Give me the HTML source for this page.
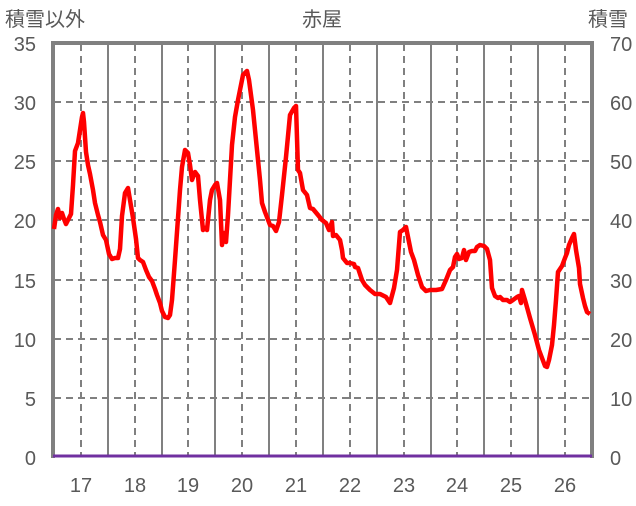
<!DOCTYPE html><html><head><style>body{margin:0;background:#fff}</style></head><body>
<svg width="636" height="501" xmlns="http://www.w3.org/2000/svg" font-family="Liberation Sans, Noto Sans CJK JP, sans-serif" fill="#595959">
<rect width="636" height="501" fill="#fff"/>
<g stroke="#808080" stroke-width="2" stroke-dasharray="7,5">
<line x1="54" x2="592" y1="398" y2="398"/><line x1="54" x2="592" y1="339" y2="339"/><line x1="54" x2="592" y1="280" y2="280"/><line x1="54" x2="592" y1="220" y2="220"/><line x1="54" x2="592" y1="161" y2="161"/><line x1="54" x2="592" y1="102" y2="102"/>
<line x1="81" x2="81" y1="44" y2="457"/><line x1="135" x2="135" y1="44" y2="457"/><line x1="188" x2="188" y1="44" y2="457"/><line x1="242" x2="242" y1="44" y2="457"/><line x1="296" x2="296" y1="44" y2="457"/><line x1="350" x2="350" y1="44" y2="457"/><line x1="404" x2="404" y1="44" y2="457"/><line x1="457" x2="457" y1="44" y2="457"/><line x1="511" x2="511" y1="44" y2="457"/><line x1="565" x2="565" y1="44" y2="457"/>
</g>
<g stroke="#808080" stroke-width="2">
<line x1="108" x2="108" y1="44" y2="457"/><line x1="162" x2="162" y1="44" y2="457"/><line x1="215" x2="215" y1="44" y2="457"/><line x1="269" x2="269" y1="44" y2="457"/><line x1="323" x2="323" y1="44" y2="457"/><line x1="377" x2="377" y1="44" y2="457"/><line x1="431" x2="431" y1="44" y2="457"/><line x1="484" x2="484" y1="44" y2="457"/><line x1="538" x2="538" y1="44" y2="457"/>
</g>
<path d="M53,458V43H592V458" fill="none" stroke="#808080" stroke-width="4"/>
<line x1="53" x2="592" y1="456" y2="456" stroke="#7030a0" stroke-width="3"/>
<polyline fill="none" stroke="#ff0000" stroke-width="4.5" stroke-linejoin="round" points="54,229 56,215 58,209 60,218 62,213 64,219 66,224 69,218 71,214 73,185 75,151 78,143 80,130 82,117 83,113 84,122 86,152 88,165 90,174 93,190 95,203 98,215 100,222 103,235 106,240 109,254 112,259 115,258 118,258 120,249 122,216 125,193 128,188 130,200 133,218 136,239 138,258 140,260 143,262 146,270 149,277 152,281 155,289 157,295 160,303 162,311 165,317 168,318 170,315 172,300 175,260 178,218 180,190 182,167 185,150 188,153 190,165 192,180 195,172 198,176 200,200 203,230 205,228 207,230 210,200 212,190 215,185 217,183 220,200 222,245 224,233 226,242 228,215 230,180 232,145 235,117 238,100 243,75 247,71 249,80 253,110 257,150 260,180 262,203 265,212 270,225 273,226 276,231 279,222 282,195 286,157 290,115 294,108 296,106 298,170 300,173 303,190 307,195 310,208 313,209 318,215 322,220 326,223 329,230 332,222 333,236 336,235 340,240 342,250 343,258 347,263 350,263 354,264 355,267 358,268 362,280 365,285 370,290 375,294 380,294 386,297 390,303 394,288 397,270 400,232 403,230 406,227 408,237 411,252 414,260 418,275 422,287 426,291 430,290 436,290 442,289 446,280 450,270 453,267 455,257 457,254 459,259 462,258 464,250 466,260 469,252 472,251 475,251 477,247 480,245 484,246 487,249 490,260 492,288 495,296 498,298 500,297 503,300 507,300 510,302 513,300 517,297 519,296 521,303 522,290 525,300 530,318 535,335 539,350 542,358 545,366 547,367 549,360 552,345 554,325 556,300 558,272 560,269 562,266 565,258 567,253 569,245 572,238 574,234 576,250 579,268 580,284 583,298 585,306 587,312 590,314"/>
<g font-size="20">
<text x="5" y="26">積雪以外</text>
<text x="322" y="26" text-anchor="middle">赤屋</text>
<text x="588" y="26">積雪</text>
<g text-anchor="end"><text x="36" y="51">35</text><text x="36" y="110">30</text><text x="36" y="169">25</text><text x="36" y="228">20</text><text x="36" y="288">15</text><text x="36" y="347">10</text><text x="36" y="406">5</text><text x="36" y="465">0</text></g>
<g><text x="610" y="51">70</text><text x="610" y="110">60</text><text x="610" y="169">50</text><text x="610" y="228">40</text><text x="610" y="288">30</text><text x="610" y="347">20</text><text x="610" y="406">10</text><text x="610" y="465">0</text></g>
<g text-anchor="middle"><text x="81" y="492">17</text><text x="135" y="492">18</text><text x="188" y="492">19</text><text x="242" y="492">20</text><text x="296" y="492">21</text><text x="350" y="492">22</text><text x="404" y="492">23</text><text x="457" y="492">24</text><text x="511" y="492">25</text><text x="565" y="492">26</text></g>
</g>
</svg></body></html>
